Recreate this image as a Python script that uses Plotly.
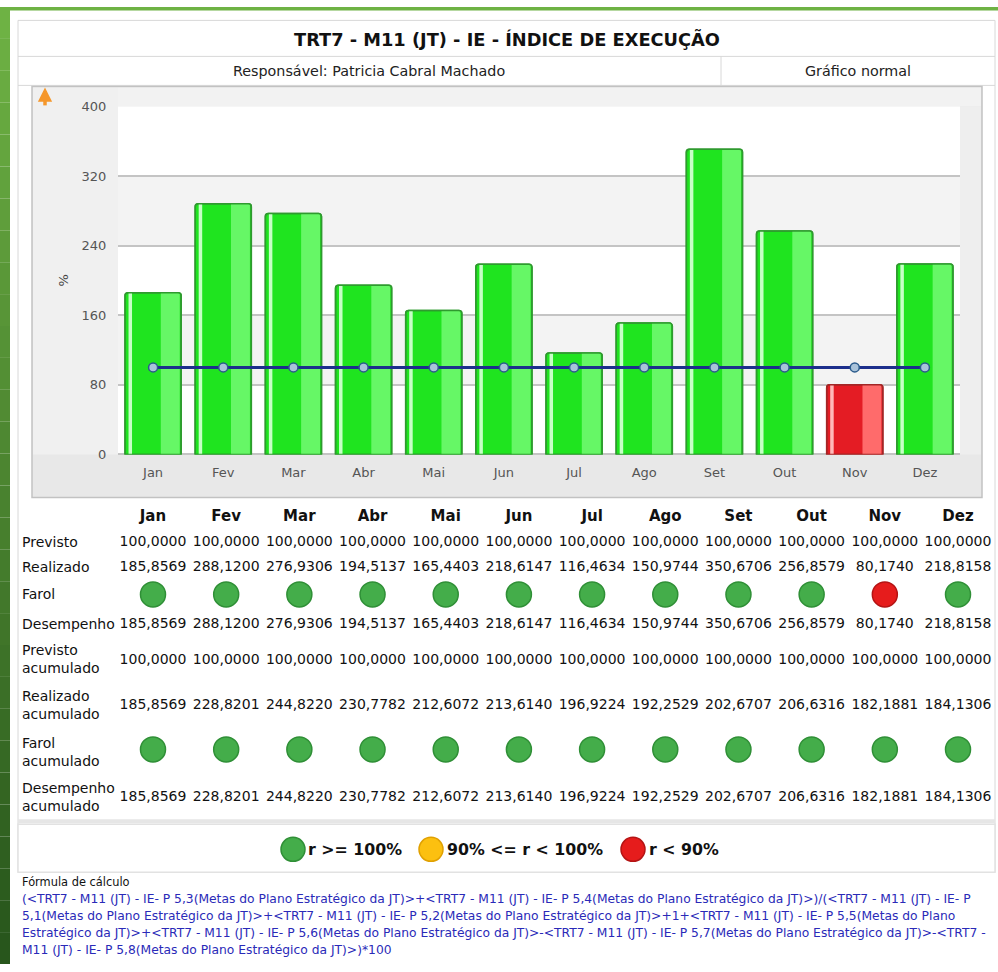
import plotly.graph_objects as go

W, H = 998, 972

# ---------------- data ----------------
months = ["Jan", "Fev", "Mar", "Abr", "Mai", "Jun", "Jul", "Ago", "Set", "Out", "Nov", "Dez"]
previsto = [100.0, 100.0, 100.0, 100.0, 100.0, 100.0, 100.0, 100.0, 100.0, 100.0, 100.0, 100.0]
realizado = [185.8569, 288.1200, 276.9306, 194.5137, 165.4403, 218.6147,
             116.4634, 150.9744, 350.6706, 256.8579, 80.1740, 218.8158]
farol = ["verde", "verde", "verde", "verde", "verde", "verde",
         "verde", "verde", "verde", "verde", "vermelho", "verde"]
desempenho = [185.8569, 288.1200, 276.9306, 194.5137, 165.4403, 218.6147,
              116.4634, 150.9744, 350.6706, 256.8579, 80.1740, 218.8158]
previsto_acum = [100.0, 100.0, 100.0, 100.0, 100.0, 100.0, 100.0, 100.0, 100.0, 100.0, 100.0, 100.0]
realizado_acum = [185.8569, 228.8201, 244.8220, 230.7782, 212.6072, 213.6140,
                  196.9224, 192.2529, 202.6707, 206.6316, 182.1881, 184.1306]
farol_acum = ["verde", "verde", "verde", "verde", "verde", "verde",
              "verde", "verde", "verde", "verde", "verde", "verde"]
desempenho_acum = [185.8569, 228.8201, 244.8220, 230.7782, 212.6072, 213.6140,
                   196.9224, 192.2529, 202.6707, 206.6316, 182.1881, 184.1306]
y_ticks = [0, 80, 160, 240, 320, 400]

title = "TRT7 - M11 (JT) - IE - ÍNDICE DE EXECUÇÃO"
responsavel = "Responsável: Patricia Cabral Machado"
tipo = "Gráfico normal"
legend_items = [("verde", "r &gt;= 100%"), ("amarelo", "90% &lt;= r &lt; 100%"), ("vermelho", "r &lt; 90%")]
formula_lines = [
    "(&lt;TRT7 - M11 (JT) - IE- P 5,3(Metas do Plano Estratégico da JT)&gt;+&lt;TRT7 - M11 (JT) - IE- P 5,4(Metas do Plano Estratégico da JT)&gt;)/(&lt;TRT7 - M11 (JT) - IE- P",
    "5,1(Metas do Plano Estratégico da JT)&gt;+&lt;TRT7 - M11 (JT) - IE- P 5,2(Metas do Plano Estratégico da JT)&gt;+1+&lt;TRT7 - M11 (JT) - IE- P 5,5(Metas do Plano",
    "Estratégico da JT)&gt;+&lt;TRT7 - M11 (JT) - IE- P 5,6(Metas do Plano Estratégico da JT)&gt;-&lt;TRT7 - M11 (JT) - IE- P 5,7(Metas do Plano Estratégico da JT)&gt;-&lt;TRT7 -",
    "M11 (JT) - IE- P 5,8(Metas do Plano Estratégico da JT)&gt;)*100",
]

# ---------------- styles ----------------
FONT = "DejaVu Sans"
bar_main = {"verde": "#1fe41f", "vermelho": "#e41c24"}
bar_line = {"verde": "#2f9a2f", "vermelho": "#a32626"}
bar_light = {"verde": "#66f766", "vermelho": "#ff6b6b"}
bar_stripe = {"verde": "#c6ffc6", "vermelho": "#ffb9b9"}
dot_fill = {"verde": "#44ad4a", "amarelo": "#fcc010", "vermelho": "#e61c1c"}
dot_line = {"verde": "#2f8f36", "amarelo": "#e0a000", "vermelho": "#b41414"}

# screen (target) pixel -> figure pixel, vertical compensation
V_OFF, V_S = 6.6, 0.9846


def px(x):
    return x / W


def fy(t):
    return (t - V_OFF) / V_S


def py(t):
    return 1 - fy(t) / H


def fmt(v):
    return f"{v:.4f}".replace(".", ",")


PL_X0, PL_X1, PL_Y0, PL_Y1 = 118, 960, 454, 106  # plot area in target pixels
Y_MAX = 400

fig = go.Figure()

# ---- bars (with fake gloss) ----
fig.add_trace(go.Bar(x=months, y=realizado, width=0.8,
                     marker=dict(color=[bar_main[f] for f in farol],
                                 line=dict(color=[bar_line[f] for f in farol], width=1.5),
                                 cornerradius=3),
                     hoverinfo="skip"))
fig.add_trace(go.Bar(x=months, y=realizado, width=0.27, offset=0.11,
                     marker=dict(color=[bar_light[f] for f in farol], line=dict(width=0)),
                     hoverinfo="skip"))
fig.add_trace(go.Bar(x=months, y=realizado, width=0.05, offset=-0.35,
                     marker=dict(color=[bar_stripe[f] for f in farol], line=dict(width=0)),
                     hoverinfo="skip"))
fig.add_trace(go.Bar(x=months, y=realizado, width=0.8,
                     marker=dict(color="rgba(0,0,0,0)",
                                 line=dict(color=[bar_line[f] for f in farol], width=1.5),
                                 cornerradius=3),
                     hoverinfo="skip"))
# ---- previsto line ----
fig.add_trace(go.Scatter(x=months, y=previsto, mode="lines+markers",
                         line=dict(color="#1c2f8c", width=3),
                         marker=dict(size=9, color="#a9c3da", line=dict(color="#2b5b8c", width=1.5)),
                         hoverinfo="skip"))

# ---- table (on pixel-y overlay axes) ----
row_vals = [
    (542, previsto),
    (567, realizado),
    (624, desempenho),
    (660, previsto_acum),
    (705, realizado_acum),
    (797, desempenho_acum),
]
fig.add_trace(go.Scatter(x=months, y=[517] * len(months), mode="text", text=months,
                         textfont=dict(family=FONT, size=15, color="#111", weight="bold"),
                         xaxis="x2", yaxis="y2", hoverinfo="skip", cliponaxis=False))
for ry, vals in row_vals:
    fig.add_trace(go.Scatter(x=months, y=[ry] * len(months), mode="text",
                             text=[fmt(v) for v in vals],
                             textfont=dict(family=FONT, size=14, color="#111"),
                             xaxis="x2", yaxis="y2", hoverinfo="skip", cliponaxis=False))
for ry, fl in [(594, farol), (749, farol_acum)]:
    fig.add_trace(go.Scatter(x=months, y=[ry] * len(months), mode="markers",
                             marker=dict(size=25, color=[dot_fill[f] for f in fl],
                                         line=dict(color=[dot_line[f] for f in fl], width=1.5)),
                             xaxis="x2", yaxis="y2", hoverinfo="skip", cliponaxis=False))

# ---------------- shapes ----------------
shapes = []


def rect(x0, x1, t0, t1, fill, line=None, layer="below"):
    shapes.append(dict(type="rect", xref="paper", yref="paper", layer=layer,
                       x0=px(x0), x1=px(x1), y0=py(t1), y1=py(t0),
                       fillcolor=fill, line=line or dict(width=0)))


def hline(x0, x1, t, color, width=1):
    shapes.append(dict(type="line", xref="paper", yref="paper", layer="below",
                       x0=px(x0), x1=px(x1), y0=py(t), y1=py(t),
                       line=dict(color=color, width=width)))


# green frame (gradient approximation)
top_c = (110, 178, 68)
bot_c = (40, 86, 28)
N = 30
t_top, t_bot = V_OFF, V_OFF + V_S * H
for i in range(N):
    t = i / (N - 1)
    c = tuple(int(top_c[k] + (bot_c[k] - top_c[k]) * t) for k in range(3))
    rect(0, 10, t_top + (t_bot - t_top) * i / N, t_top + (t_bot - t_top) * (i + 1) / N, f"rgb{c}")
rect(0, W, t_top, 10, "rgb(110,178,68)")
# outer container and header cells
border = "#d8d8d8"
rect(18, 995, 20, 872, "white", dict(color=border, width=1))
hline(18, 995, 56, border)
hline(18, 995, 85, border)
shapes.append(dict(type="line", xref="paper", yref="paper", layer="below", x0=px(721), x1=px(721),
                   y0=py(85), y1=py(56), line=dict(color=border, width=1)))
hline(18, 995, 821, "#e6e6e6", 4)
# chart panel
rect(32, 982, 86, 497, "#e8e8e8", dict(color="#c2c2c2", width=1.5))
rect(33, PL_X0, 87, PL_Y0, "#f0f0f0")
rect(PL_X0, 981, 87, PL_Y1, "#f2f2f2")
rect(PL_X1, 981, PL_Y1, PL_Y0, "#eeeeee")
rect(PL_X0, PL_X1, PL_Y1, PL_Y0, "white")
# alternating bands (320-240, 160-80)
for lo, hi in [(240, 320), (80, 160)]:
    ylo = PL_Y0 - (PL_Y0 - PL_Y1) * lo / Y_MAX
    yhi = PL_Y0 - (PL_Y0 - PL_Y1) * hi / Y_MAX
    rect(PL_X0, PL_X1, yhi, ylo, "#f3f3f3")
# legend box
rect(18, 995, 824, 872, "white", dict(color="#e2e2e2", width=1.5))
legend_x = [293, 431, 633]
legend_tx = [306, 445, 647]
for (key, _), cx in zip(legend_items, legend_x):
    shapes.append(dict(type="circle", xref="paper", yref="paper",
                       x0=px(cx - 12), x1=px(cx + 12), y0=py(849 + 12), y1=py(849 - 12),
                       fillcolor=dot_fill[key], line=dict(color=dot_line[key], width=1.5)))
# orange "up" arrow shaft
shapes.append(dict(type="line", xref="paper", yref="paper", x0=px(45), x1=px(45),
                   y0=py(105), y1=py(93), line=dict(color="#f5972b", width=3.5)))

# ---------------- annotations ----------------
ann = []


def add_text(text, x, y, size, color="#111", xanchor="center", bold=False, **kw):
    f = dict(family=FONT, size=size, color=color)
    if bold:
        f["weight"] = "bold"
    ann.append(dict(text=text, x=px(x), y=py(y), xref="paper", yref="paper", showarrow=False,
                    xanchor=xanchor, yanchor="middle", font=f, **kw))


add_text(title, 507, 39, 17.8, bold=True)
add_text(responsavel, 369, 71, 14.3, color="#222")
add_text(tipo, 858, 71, 14.3, color="#222")
# orange "up" arrow head
ann.append(dict(text="", x=px(45), y=py(87), xref="paper", yref="paper", showarrow=True,
                ax=0, ay=10, arrowhead=2, arrowsize=0.95, arrowwidth=3, arrowcolor="#f5972b"))
add_text("%", 63, 280, 13, color="#444", textangle=-90)
row_labels = [
    (542, "Previsto"), (567, "Realizado"), (594, "Farol"), (624, "Desempenho"),
    (659, "Previsto<br>acumulado"), (705, "Realizado<br>acumulado"),
    (752, "Farol<br>acumulado"), (797, "Desempenho<br>acumulado"),
]
for ry, lab in row_labels:
    add_text(lab, 20, ry, 14, xanchor="left", align="left")
for (key, lab), tx in zip(legend_items, legend_tx):
    add_text(lab, tx, 849, 15.8, xanchor="left", bold=True)
add_text("Fórmula de cálculo", 20, 882, 11.4, xanchor="left")
for i, line in enumerate(formula_lines):
    add_text(line, 20, 899 + 17 * i, 12.3, color="#2a2ab8", xanchor="left")

fig.update_layout(
    width=W, height=H, autosize=False,
    margin=dict(l=0, r=0, t=0, b=0),
    paper_bgcolor="white", plot_bgcolor="rgba(0,0,0,0)",
    barmode="overlay", bargap=0.2, showlegend=False,
    shapes=shapes, annotations=ann,
    xaxis=dict(domain=[px(PL_X0), px(PL_X1)], anchor="y", type="category",
               range=[-0.5, len(months) - 0.5], showgrid=False, zeroline=False,
               showline=False, ticks="outside", ticklen=6, tickcolor="rgba(0,0,0,0)",
               tickfont=dict(family=FONT, size=13, color="#555")),
    yaxis=dict(domain=[py(PL_Y0), py(PL_Y1)], anchor="x", range=[0, Y_MAX],
               tickvals=y_ticks, showgrid=True, gridcolor="#c4c4c4", gridwidth=1.5,
               zeroline=True, zerolinecolor="#c4c4c4", zerolinewidth=1.5,
               ticks="outside", ticklen=8, tickcolor="rgba(0,0,0,0)",
               tickfont=dict(family=FONT, size=13, color="#555")),
    xaxis2=dict(domain=[px(153 - 36.6), px(958 + 36.6)], anchor="y2", type="category",
                range=[-0.5, len(months) - 0.5], visible=False, categoryarray=months,
                categoryorder="array"),
    yaxis2=dict(domain=[0, 1], anchor="x2", range=[V_OFF + V_S * H, V_OFF], visible=False),
)

fig.write_html(
    "out.html",
    config={"displayModeBar": False},
    post_script=("document.documentElement.style.margin='0';document.body.style.margin='0';"
                 "document.body.style.overflow='hidden';"
                 "var d=document.getElementById('{plot_id}');d.style.position='fixed';"
                 "d.style.left='0px';d.style.top='0px';"),
)
